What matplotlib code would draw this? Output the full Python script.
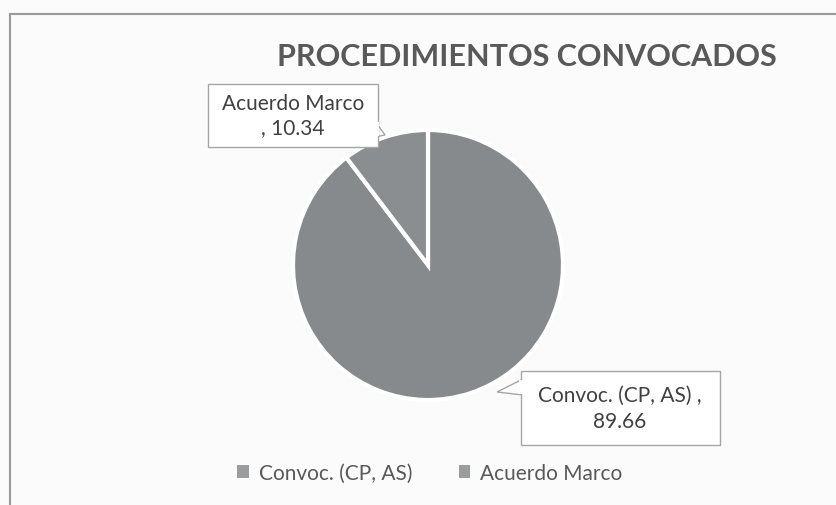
import matplotlib
matplotlib.use("Agg")
import matplotlib.pyplot as plt
from matplotlib.patches import Rectangle, Polygon

plt.rcParams['font.family'] = ['Lato', 'DejaVu Sans']

categories = ["Convoc. (CP, AS)", "Acuerdo Marco"]
values = [89.66, 10.34]
title = "PROCEDIMIENTOS CONVOCADOS"
colors = ["#878a8c", "#8b8e90"]

W, H = 836, 506
fig = plt.figure(figsize=(W / 100, H / 100), dpi=100)
fig.patch.set_facecolor("#fbfbfb")
ax = fig.add_axes([0, 0, 1, 1])
ax.set_xlim(0, W)
ax.set_ylim(0, H)
ax.axis("off")

# chart border
ax.add_patch(Rectangle((10, -5), W, H - 15 + 5, fill=False, edgecolor="#9a9a9a", lw=1.5))

cx, cy, r = 428, H - 266, 135
wedges, _ = ax.pie(values, colors=colors, startangle=90, counterclock=False,
                   center=(cx, cy), radius=r,
                   wedgeprops=dict(edgecolor="white", linewidth=3))
ax.set_xlim(0, W)
ax.set_ylim(0, H)
ax.set_aspect("equal")

ax.text(527, H - 57, title, ha="center", va="center", fontsize=22,
        fontweight="bold", color="#595959")

# data label callouts
box_kw = dict(facecolor="white", edgecolor="#a6a6a6", lw=1)
# Acuerdo Marco box
ax.add_patch(Polygon([(375, H - 122), (385, H - 136), (375, H - 138)], closed=True,
                     facecolor="white", edgecolor="#a6a6a6", lw=1, zorder=3))
ax.add_patch(Rectangle((208, H - 148), 170, 63, zorder=4, **box_kw))
ax.add_patch(Rectangle((376, H - 137), 3, 14, facecolor="white", edgecolor="none", zorder=5))
ax.text(293, H - 116, f"{categories[1]}\n, {values[1]:.2f}", ha="center", va="center",
        fontsize=15, color="#404040", linespacing=1.25, zorder=6)

# Convoc box
ax.add_patch(Polygon([(523, H - 380), (497, H - 393), (523, H - 396)], closed=True,
                     facecolor="white", edgecolor="#a6a6a6", lw=1, zorder=3))
ax.add_patch(Rectangle((521, H - 446), 199, 74, zorder=4, **box_kw))
ax.add_patch(Rectangle((519, H - 395), 4, 14, facecolor="white", edgecolor="none", zorder=5))
ax.text(620, H - 409, f"{categories[0]} ,\n{values[0]:.2f}", ha="center", va="center",
        fontsize=15, color="#404040", linespacing=1.35, zorder=6)

# legend
handles = [Rectangle((0, 0), 1, 1, facecolor="#9a9c9e", edgecolor="none") for _ in categories]
leg = ax.legend(handles, categories, loc="center", bbox_to_anchor=(430 / W, 1 - 474 / H),
                ncol=2, frameon=False, fontsize=15, handlelength=0.55, handleheight=0.55,
                handletextpad=0.5, columnspacing=2.2, labelcolor="#595959")

fig.savefig("out.png", dpi=100, facecolor=fig.get_facecolor())
